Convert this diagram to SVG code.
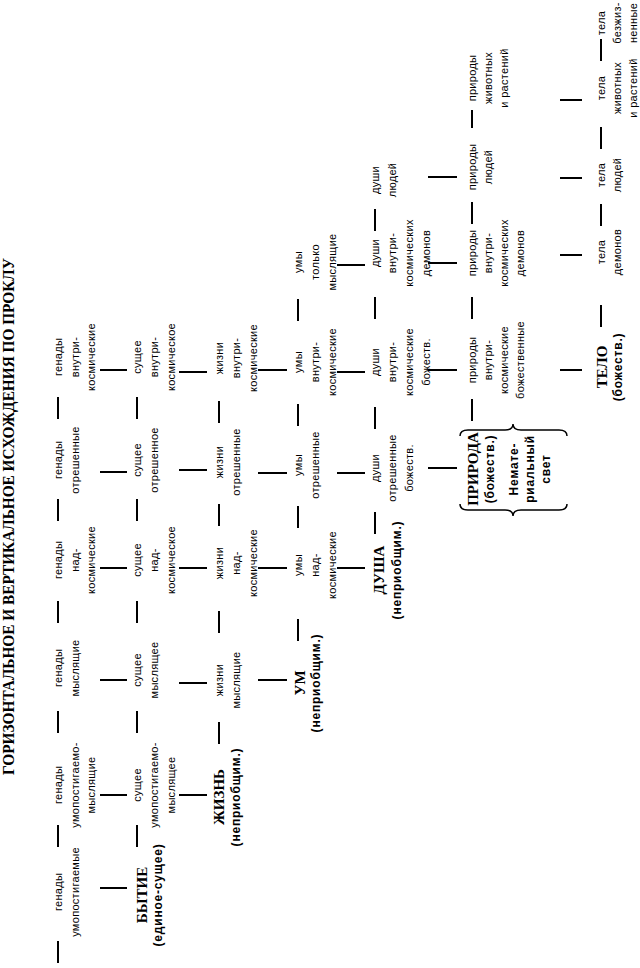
<svg xmlns="http://www.w3.org/2000/svg" width="640" height="968" viewBox="0 0 640 968">
<style>
.t{font-family:"Liberation Sans",Arial,sans-serif;font-size:11px;letter-spacing:0.3px;text-anchor:middle;fill:#000}
.b{font-family:"Liberation Serif","Times New Roman",serif;font-weight:bold;font-size:15px;text-anchor:middle;fill:#000}
.s{font-family:"Liberation Sans",Arial,sans-serif;font-weight:bold;font-size:12px;letter-spacing:0.8px;text-anchor:middle;fill:#000}
.ttl{font-family:"Liberation Serif","Times New Roman",serif;font-weight:bold;font-size:16px;fill:#000}
.ln{stroke:#000;stroke-width:2;fill:none}
.br{stroke:#000;stroke-width:1.5;fill:none}
</style>
<rect width="640" height="968" fill="#fff"/>
<g transform="translate(0,968) rotate(-90)">
<text id="title" class="ttl" x="193" y="14" textLength="517" lengthAdjust="spacingAndGlyphs">ГОРИЗОНТАЛЬНОЕ И ВЕРТИКАЛЬНОЕ ИСХОЖДЕНИЯ ПО ПРОКЛУ</text>

<!-- Row 1 -->
<g id="r1a"><text class="t" x="76" y="62">генады</text><text class="t" x="76" y="79">умопостигаемые</text></g>
<g id="r1b"><text class="t" x="183" y="62">генады</text><text class="t" x="183" y="79">умопостигаемо-</text><text class="t" x="183" y="95">мыслящие</text></g>
<g id="r1c"><text class="t" x="300" y="62">генады</text><text class="t" x="300" y="79">мыслящие</text></g>
<g id="r1d"><text class="t" x="408" y="62">генады</text><text class="t" x="408" y="79">над-</text><text class="t" x="408" y="95">космические</text></g>
<g id="r1e"><text class="t" x="508" y="62">генады</text><text class="t" x="508" y="79">отрешенные</text></g>
<g id="r1f"><text class="t" x="611" y="62">генады</text><text class="t" x="611" y="79">внутри-</text><text class="t" x="611" y="95">космические</text></g>

<!-- Row 2 -->
<g id="r2a"><text class="b" x="73" y="147">БЫТИЕ</text><text class="s" x="73" y="162">(единое-сущее)</text></g>
<g id="r2b"><text class="t" x="183" y="141">сущее</text><text class="t" x="183" y="158">умопостигаемо-</text><text class="t" x="183" y="175">мыслящее</text></g>
<g id="r2c"><text class="t" x="298" y="141">сущее</text><text class="t" x="298" y="158">мыслящее</text></g>
<g id="r2d"><text class="t" x="408" y="141">сущее</text><text class="t" x="408" y="158">над-</text><text class="t" x="408" y="175">космическое</text></g>
<g id="r2e"><text class="t" x="508" y="141">сущее</text><text class="t" x="508" y="158">отрешенное</text></g>
<g id="r2f"><text class="t" x="611" y="141">сущее</text><text class="t" x="611" y="158">внутри-</text><text class="t" x="611" y="175">космическое</text></g>

<!-- Row 3 -->
<g id="r3a"><text class="b" x="171" y="224">ЖИЗНЬ</text><text class="s" x="171" y="240">(неприобщим.)</text></g>
<g id="r3b"><text class="t" x="288" y="223">жизни</text><text class="t" x="288" y="240">мыслящие</text></g>
<g id="r3c"><text class="t" x="405" y="223">жизни</text><text class="t" x="405" y="240">над-</text><text class="t" x="405" y="257">космические</text></g>
<g id="r3d"><text class="t" x="506" y="223">жизни</text><text class="t" x="506" y="240">отрешенные</text></g>
<g id="r3e"><text class="t" x="610" y="223">жизни</text><text class="t" x="610" y="240">внутри-</text><text class="t" x="610" y="257">космические</text></g>

<!-- Row 4 -->
<g id="r4a"><text class="b" x="285" y="305">УМ</text><text class="s" x="285" y="320">(неприобщим.)</text></g>
<g id="r4b"><text class="t" x="403" y="302">умы</text><text class="t" x="403" y="319">над-</text><text class="t" x="403" y="336">космические</text></g>
<g id="r4c"><text class="t" x="503" y="302">умы</text><text class="t" x="503" y="319">отрешенные</text></g>
<g id="r4d"><text class="t" x="606" y="302">умы</text><text class="t" x="606" y="319">внутри-</text><text class="t" x="606" y="336">космические</text></g>
<g id="r4e"><text class="t" x="706" y="302">умы</text><text class="t" x="706" y="319">только</text><text class="t" x="706" y="336">мыслящие</text></g>

<!-- Row 5 -->
<g id="r5a"><text class="b" x="398" y="384">ДУША</text><text class="s" x="398" y="401">(неприобщим.)</text></g>
<g id="r5b"><text class="t" x="500" y="379">души</text><text class="t" x="500" y="396">отрешенные</text><text class="t" x="500" y="413">божеств.</text></g>
<g id="r5c"><text class="t" x="606" y="379">души</text><text class="t" x="606" y="396">внутри-</text><text class="t" x="606" y="413">космические</text><text class="t" x="606" y="430">божеств.</text></g>
<g id="r5d"><text class="t" x="715" y="379">души</text><text class="t" x="715" y="396">внутри-</text><text class="t" x="715" y="413">космических</text><text class="t" x="715" y="430">демонов</text></g>
<g id="r5e"><text class="t" x="788" y="379">души</text><text class="t" x="788" y="396">людей</text></g>

<!-- Row 6 -->
<g id="r6a">
<path class="br" d="M464 460 Q458 460 458 468 L458 505 Q458 513 452 513 Q458 513 458 521 L458 559 Q458 567 464 567"/>
<path class="br" d="M532 460 Q538 460 538 468 L538 505 Q538 513 544 513 Q538 513 538 521 L538 559 Q538 567 532 567"/>
<text class="b" x="499" y="478">ПРИРОДА</text><text class="s" x="499" y="494">(божеств.)</text>
<text class="s" x="499" y="518">Немате-</text><text class="s" x="499" y="534">риальный</text><text class="s" x="499" y="550">свет</text>
</g>
<g id="r6b"><text class="t" x="608" y="476">природы</text><text class="t" x="608" y="492">внутри-</text><text class="t" x="608" y="508">космические</text><text class="t" x="608" y="524">божественные</text></g>
<g id="r6c"><text class="t" x="715" y="476">природы</text><text class="t" x="715" y="492">внутри-</text><text class="t" x="715" y="508">космических</text><text class="t" x="715" y="524">демонов</text></g>
<g id="r6d"><text class="t" x="801" y="476">природы</text><text class="t" x="801" y="492">людей</text></g>
<g id="r6e"><text class="t" x="890" y="476">природы</text><text class="t" x="890" y="492">животных</text><text class="t" x="890" y="508">и растений</text></g>

<!-- Row 7 -->
<g id="r7a"><text class="b" x="601" y="607">ТЕЛО</text><text class="s" x="601" y="622">(божеств.)</text></g>
<g id="r7b"><text class="t" x="716" y="605">тела</text><text class="t" x="716" y="621">демонов</text></g>
<g id="r7c"><text class="t" x="793" y="605">тела</text><text class="t" x="793" y="621">людей</text></g>
<g id="r7d"><text class="t" x="880" y="605">тела</text><text class="t" x="880" y="621">животных</text><text class="t" x="880" y="637">и растений</text></g>
<g id="r7e"><text class="t" x="945" y="605">тела</text><text class="t" x="945" y="621">безжиз-</text><text class="t" x="945" y="637">ненные</text></g>
</g>

<g id="connectors" class="ln" transform="translate(0,968) rotate(-90)">
<!-- dashes within rows -->
<path d="M5 58H27M121 58H143M235 58H257M345 58H367M447 58H469M549 58H571"/>
<path d="M121 137H143M235 137H257M345 137H367M447 137H469M549 137H571"/>
<path d="M224 219H246M335 219H357M442 219H464M545 219H567"/>
<path d="M327 298H349M440 298H462M542 298H564M647 298H669"/>
<path d="M434 375H456M539 375H561M649 375H671M737 375H759"/>
<path d="M547 472H569M649 472H671M744 472H766M840 472H858"/>
<path d="M641 601H663M742 601H764M819 601H841M907 601H929"/>
<!-- links between rows -->
<path d="M80 100V127M173 100V127M288 100V127M400 100V127M496 100V127M598 100V127"/>
<path d="M173 179V207M285 179V207M400 179V207M498 179V207M596 179V207"/>
<path d="M288 258V287M400 258V287M495 258V287M598 258V287"/>
<path d="M400 337V365M495 337V365M596 337V365M703 337V365"/>
<path d="M500 428V457M598 428V457M705 428V457M791 428V457"/>
<path d="M598 560V582M713 560V582M790 560V582M868 560V582"/>
</g>
</svg>
